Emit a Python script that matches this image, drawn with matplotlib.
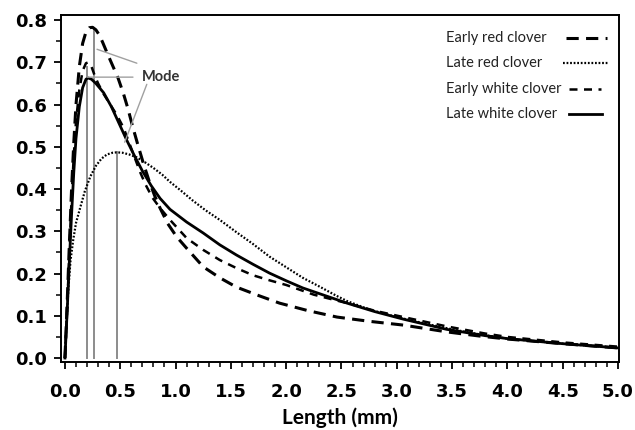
import matplotlib
matplotlib.use("Agg")
import matplotlib.pyplot as plt
from matplotlib.lines import Line2D
from matplotlib.ticker import MultipleLocator, FormatStrFormatter

# ---- data ----
early_red_x = [0.0, 0.02, 0.04, 0.06, 0.08, 0.10, 0.13, 0.16, 0.19, 0.22, 0.25, 0.28, 0.31, 0.34,
               0.38, 0.43, 0.48, 0.53, 0.57, 0.61, 0.66, 0.71, 0.76, 0.81, 0.86, 0.93, 1.01, 1.10,
               1.25, 1.40, 1.55, 1.75, 1.94, 2.20, 2.46, 2.75, 3.06, 3.45, 3.75, 4.0, 4.5, 5.0]
early_red_y = [0.0, 0.13, 0.27, 0.40, 0.51, 0.60, 0.69, 0.745, 0.772, 0.782, 0.783, 0.777, 0.765, 0.748,
               0.723, 0.693, 0.663, 0.625, 0.59, 0.55, 0.504, 0.46, 0.42, 0.385, 0.355, 0.318, 0.287, 0.26,
               0.216, 0.19, 0.168, 0.148, 0.13, 0.112, 0.097, 0.087, 0.078, 0.062, 0.052, 0.045, 0.034, 0.024]

late_red_x = [0.0, 0.01, 0.03, 0.05, 0.075, 0.10, 0.14, 0.18, 0.23, 0.28, 0.33, 0.38, 0.43, 0.47,
              0.52, 0.58, 0.65, 0.72, 0.80, 0.88, 0.95, 1.05, 1.15, 1.27, 1.40, 1.55, 1.70, 1.85,
              2.0, 2.15, 2.31, 2.45, 2.55, 2.75, 3.0, 3.25, 3.5, 3.75, 4.0, 4.5, 5.0]
late_red_y = [0.0, 0.06, 0.16, 0.23, 0.28, 0.32, 0.358, 0.395, 0.43, 0.455, 0.472, 0.482, 0.486, 0.487,
              0.486, 0.482, 0.475, 0.464, 0.45, 0.434, 0.417, 0.396, 0.374, 0.35, 0.327, 0.298, 0.27, 0.24,
              0.215, 0.19, 0.168, 0.148, 0.135, 0.115, 0.097, 0.082, 0.068, 0.056, 0.046, 0.034, 0.024]

early_white_x = [0.0, 0.02, 0.04, 0.06, 0.08, 0.10, 0.13, 0.16, 0.19, 0.21, 0.24, 0.27, 0.30, 0.35,
                 0.41, 0.47, 0.53, 0.58, 0.63, 0.68, 0.73, 0.79, 0.86, 0.95, 1.10, 1.25, 1.40, 1.55,
                 1.70, 1.85, 2.0, 2.25, 2.55, 2.8, 3.06, 3.45, 3.8, 4.0, 4.5, 5.0]
early_white_y = [0.0, 0.12, 0.25, 0.38, 0.48, 0.56, 0.635, 0.68, 0.698, 0.70, 0.69, 0.668, 0.65, 0.625,
                 0.60, 0.575, 0.545, 0.51, 0.475, 0.44, 0.41, 0.38, 0.355, 0.327, 0.284, 0.256, 0.232, 0.213,
                 0.196, 0.184, 0.173, 0.15, 0.13, 0.112, 0.097, 0.075, 0.058, 0.05, 0.037, 0.027]

late_white_x = [0.0, 0.02, 0.04, 0.06, 0.08, 0.10, 0.13, 0.16, 0.19, 0.21, 0.24, 0.28, 0.35, 0.42,
                0.49, 0.56, 0.63, 0.70, 0.78, 0.86, 0.95, 1.10, 1.25, 1.40, 1.55, 1.70, 1.85, 2.0,
                2.15, 2.35, 2.55, 2.8, 3.06, 3.45, 3.8, 4.0, 4.5, 5.0]
late_white_y = [0.0, 0.11, 0.23, 0.34, 0.44, 0.52, 0.595, 0.64, 0.66, 0.663, 0.66, 0.65, 0.628, 0.595,
                0.555, 0.515, 0.478, 0.443, 0.408, 0.378, 0.352, 0.322, 0.296, 0.268, 0.244, 0.222, 0.201, 0.183,
                0.166, 0.148, 0.13, 0.11, 0.092, 0.068, 0.053, 0.046, 0.034, 0.024]

labels = ["Early red clover", "Late red clover", "Early white clover", "Late white clover"]

# mode markers (vertical grey lines)
mode_x = [0.196, 0.26, 0.467]
mode_y = [0.69, 0.78, 0.487]

# "Mode" annotation: text anchor and the points the leader lines reach
mode_text_xy = (0.70, 0.665)
leader_from = [(0.65, 0.698), (0.615, 0.665), (0.74, 0.648)]
leader_to = [(0.29, 0.731), (0.20, 0.665), (0.54, 0.511)]

x_ticks = [0.0, 0.5, 1.0, 1.5, 2.0, 2.5, 3.0, 3.5, 4.0, 4.5, 5.0]
y_ticks = [0.0, 0.1, 0.2, 0.3, 0.4, 0.5, 0.6, 0.7, 0.8]

# ---- figure ----
fig = plt.figure(figsize=(6.35, 4.30), dpi=100)
ax = fig.add_axes([0.096, 0.158, 0.879, 0.807])

grey = "#8c8c8c"
for mx, my in zip(mode_x, mode_y):
    ax.plot([mx, mx], [0, my], color=grey, lw=1.4, zorder=1)

styles = [dict(lw=2.2, dashes=(4, 2.4)),
          dict(lw=1.6, dashes=(0.8, 0.8)),
          dict(lw=1.8, dashes=(3.2, 2.6)),
          dict(lw=2.0)]
series = [(early_red_x, early_red_y), (late_red_x, late_red_y),
          (early_white_x, early_white_y), (late_white_x, late_white_y)]
for (sx, sy), st, lab in zip(series, styles, labels):
    ax.plot(sx, sy, color="black", label=lab, **st)

for (fx, fy), (tx, ty) in zip(leader_from, leader_to):
    ax.annotate("", xy=(tx, ty), xytext=(fx, fy),
                arrowprops=dict(arrowstyle="-", color="#a0a0a0", lw=1.0, shrinkA=0, shrinkB=0))
ax.text(mode_text_xy[0], mode_text_xy[1], "Mode", fontsize=10.5, fontweight="bold",
        family="Lato", color="#333333", va="center", ha="left")

ax.set_xlim(-0.036, 5.01)
ax.set_ylim(-0.0095, 0.812)
ax.set_xticks(x_ticks)
ax.set_yticks(y_ticks)
ax.xaxis.set_major_formatter(FormatStrFormatter("%.1f"))
ax.yaxis.set_major_formatter(FormatStrFormatter("%.1f"))
ax.xaxis.set_minor_locator(MultipleLocator(0.1))
ax.yaxis.set_minor_locator(MultipleLocator(0.05))
ax.tick_params(axis="both", which="major", direction="out", length=5, width=1.3,
               labelsize=13)
ax.tick_params(axis="x", which="major", pad=10)
ax.tick_params(axis="y", which="major", pad=5)
ax.tick_params(axis="both", which="minor", direction="out", length=3.5, width=1.1)
for lab in ax.get_xticklabels() + ax.get_yticklabels():
    lab.set_fontweight("bold")
    lab.set_family("DejaVu Sans")
for s in ax.spines.values():
    s.set_linewidth(1.4)
    s.set_color("black")

ax.set_xlabel("Length (mm)", fontsize=15, fontweight="bold", family="Lato", labelpad=5)

# hand-built legend: text left-aligned, line sample to the right
row_y = [0.934, 0.862, 0.787, 0.715]
sample_x = [(0.905, 0.978), (0.900, 0.980), (0.910, 0.968), (0.910, 0.970)]
for ry, (sx0, sx1), st, lab in zip(row_y, sample_x, styles, labels):
    ax.text(0.69, ry, lab, transform=ax.transAxes, fontsize=10.5, family="Lato",
            color="#222222", va="center", ha="left")
    ax.add_line(Line2D([sx0, sx1], [ry, ry], transform=ax.transAxes, color="black", **st))

fig.savefig("out.png", dpi=100)
